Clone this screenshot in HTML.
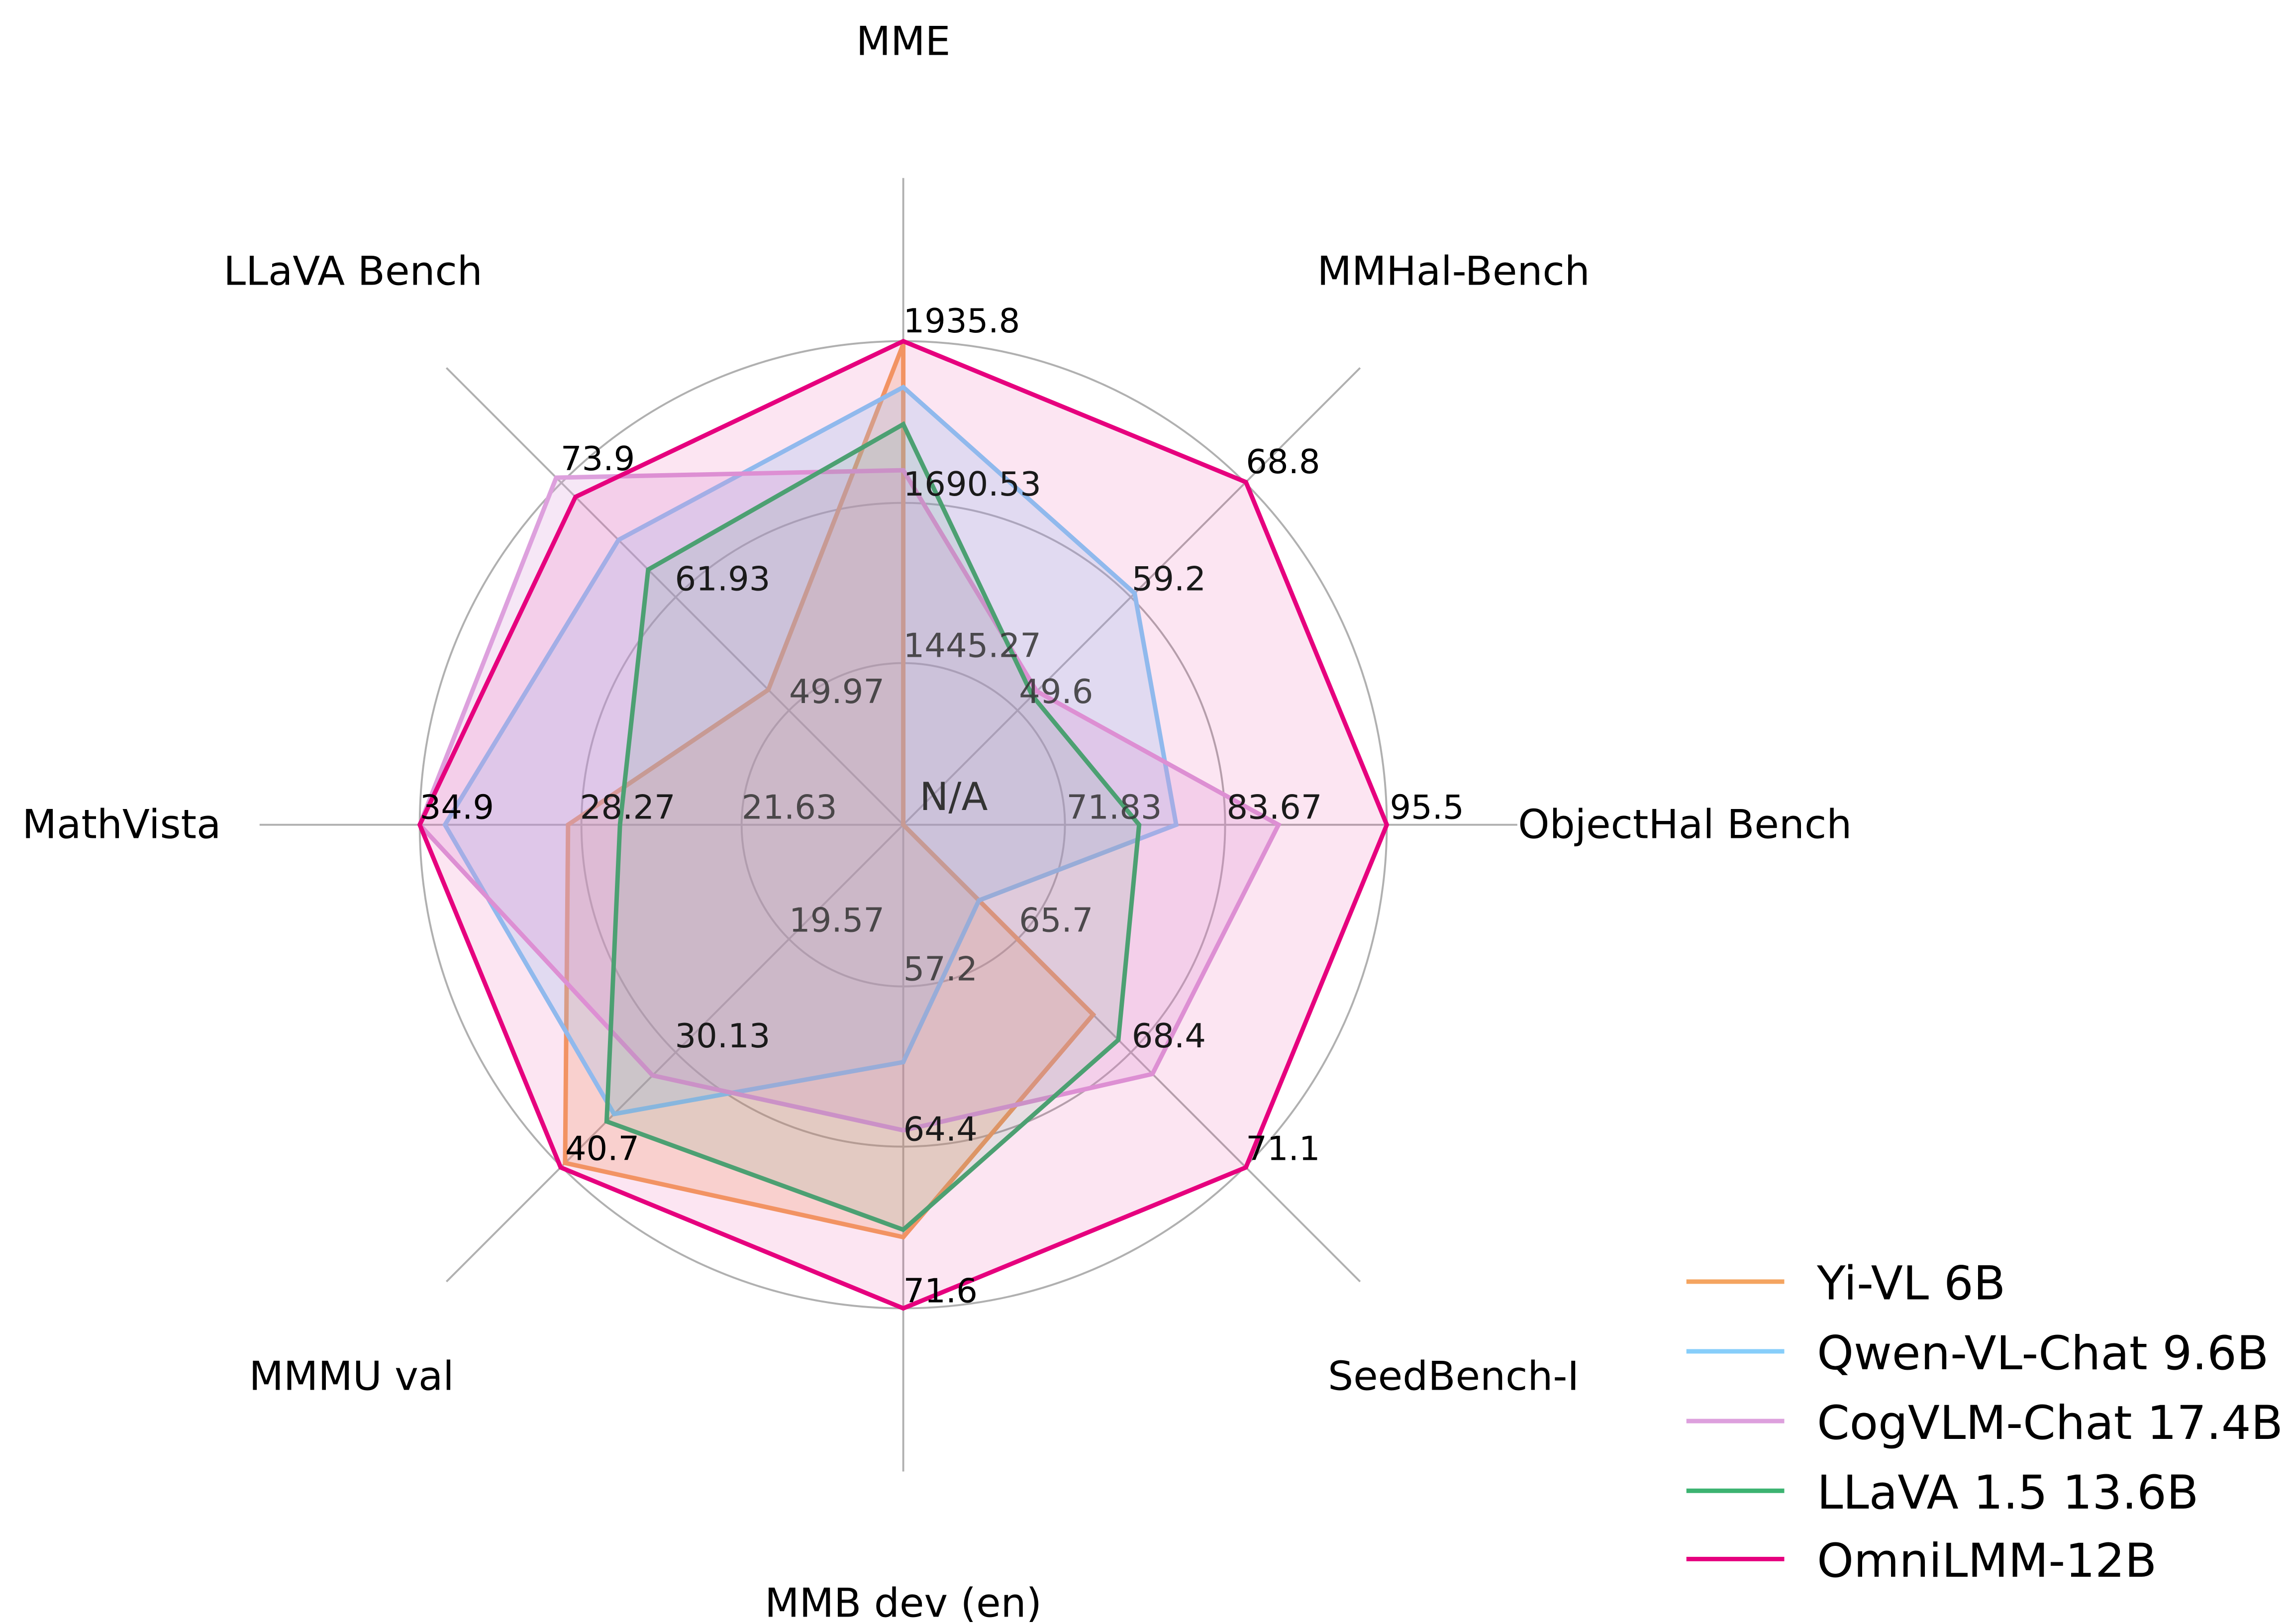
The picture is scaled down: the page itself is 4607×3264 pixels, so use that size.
<!DOCTYPE html>
<html><head><meta charset="utf-8"><style>
html,body{margin:0;padding:0;background:#fff;}
svg{display:block;}
text{font-family:"DejaVu Sans","Liberation Sans",sans-serif;}
</style></head><body>
<svg width="4607" height="3264" viewBox="0 0 1545.3 1094.8" preserveAspectRatio="none" xmlns="http://www.w3.org/2000/svg">
<rect width="1545.3" height="1094.8" fill="#fff"/>
<g stroke="#b0b0b0" stroke-width="1.3" fill="none">
<circle cx="609" cy="556" r="326"/>
<circle cx="609" cy="556" r="217"/>
<circle cx="609" cy="556" r="109"/>
<line x1="609" y1="556" x2="609" y2="120"/>
<line x1="609" y1="556" x2="609" y2="992"/>
<line x1="609" y1="556" x2="175" y2="556"/>
<line x1="609" y1="556" x2="1023" y2="556"/>
<line x1="609" y1="556" x2="917" y2="248"/>
<line x1="609" y1="556" x2="301" y2="248"/>
<line x1="609" y1="556" x2="917" y2="864"/>
<line x1="609" y1="556" x2="301" y2="864"/>
</g>
<g stroke-width="3" stroke-linejoin="miter">
<polygon points="609,232 609,556 609,556 737,684 609,834 381,784 383,556 518,465" fill="#f4a460" fill-opacity="0.25" stroke="#f4a460"/>
<polygon points="609,261 765,400 793,556 660,607 609,716 414,751 300,556 417,364" fill="#87cefa" fill-opacity="0.25" stroke="#87cefa"/>
<polygon points="609,317 699,466 862,556 777,724 609,762 440,725 283,556 375,322" fill="#dda0dd" fill-opacity="0.25" stroke="#dda0dd"/>
<polygon points="609,286 696,469 768,556 754,701 609,829 409,756 418,556 437,384" fill="#3cb371" fill-opacity="0.12" stroke="#3cb371"/>
<polygon points="609,230 840,325 935,556 840,787 609,882 378,787 283,556 388,335" fill="#e6007e" fill-opacity="0.1" stroke="#e6007e"/>
</g>
<g font-size="22.5" fill="#000">
<text x="609" y="224">1935.8</text>
<text x="840" y="319">68.8</text>
<text x="937" y="552">95.5</text>
<text x="840" y="782">71.1</text>
<text x="609" y="878">71.6</text>
<text x="381" y="782">40.7</text>
<text x="283" y="552">34.9</text>
<text x="378" y="317">73.9</text>
</g>
<g font-size="22.5" fill="#1a1a1a">
<text x="609" y="334">1690.53</text>
<text x="763" y="398">59.2</text>
<text x="827" y="552">83.67</text>
<text x="763" y="706">68.4</text>
<text x="609" y="769">64.4</text>
<text x="455" y="706">30.13</text>
<text x="391" y="552">28.27</text>
<text x="455" y="398">61.93</text>
</g>
<g font-size="22.5" fill="#333" fill-opacity="0.85">
<text x="609" y="443">1445.27</text>
<text x="687" y="474">49.6</text>
<text x="719" y="552">71.83</text>
<text x="687" y="628">65.7</text>
<text x="609" y="661">57.2</text>
<text x="532" y="628">19.57</text>
<text x="500" y="552">21.63</text>
<text x="532" y="474">49.97</text>
</g>
<text x="620" y="546" font-size="26" fill="#333">N/A</text>
<g font-size="27" fill="#000" text-anchor="middle">
<text x="609" y="37">MME</text>
<text x="238" y="192">LLaVA Bench</text>
<text x="980" y="192">MMHal-Bench</text>
<text x="1136" y="565">ObjectHal Bench</text>
<text x="82" y="565">MathVista</text>
<text x="237" y="937">MMMU val</text>
<text x="980" y="937">SeedBench-I</text>
<text x="609" y="1090">MMB dev (en)</text>
</g>
<g stroke-width="3">
<line x1="1137" y1="864" x2="1203" y2="864" stroke="#f4a460"/>
<line x1="1137" y1="911" x2="1203" y2="911" stroke="#87cefa"/>
<line x1="1137" y1="958" x2="1203" y2="958" stroke="#dda0dd"/>
<line x1="1137" y1="1005" x2="1203" y2="1005" stroke="#3cb371"/>
<line x1="1137" y1="1051" x2="1203" y2="1051" stroke="#e6007e"/>
</g>
<g font-size="31.5" fill="#000">
<text x="1225" y="876">Yi-VL 6B</text>
<text x="1225" y="923">Qwen-VL-Chat 9.6B</text>
<text x="1225" y="970">CogVLM-Chat 17.4B</text>
<text x="1225" y="1017">LLaVA 1.5 13.6B</text>
<text x="1225" y="1063">OmniLMM-12B</text>
</g>
</svg>
</body></html>
